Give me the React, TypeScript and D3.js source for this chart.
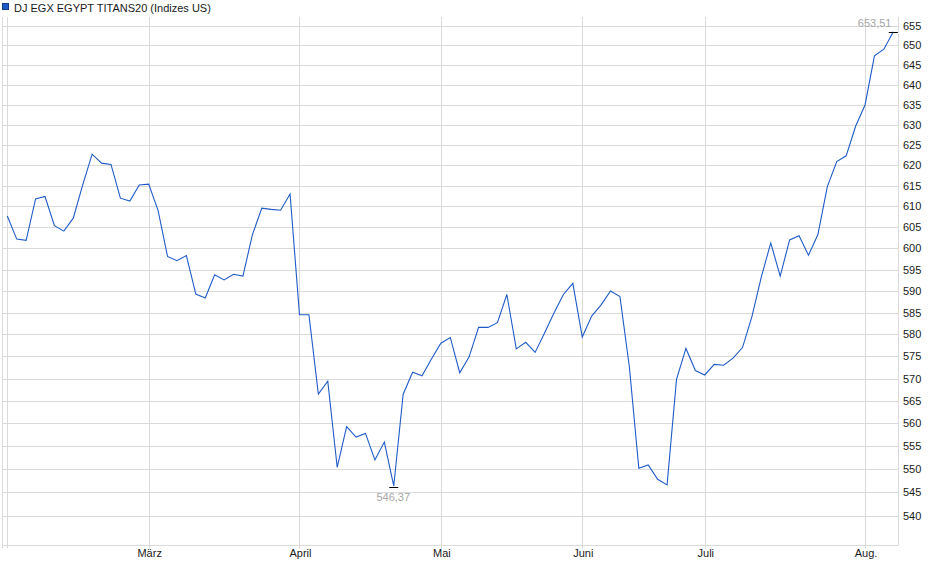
import React from "react";
import * as d3 from "d3";

const seriesName = "DJ EGX EGYPT TITANS20 (Indizes US)";

const values: number[] = [
  607.7, 602.2, 601.9, 611.8, 612.4, 605.4, 604.1, 607.2, 615.2, 622.7,
  620.5, 620.2, 612.0, 611.3, 615.2, 615.4, 609.0, 598.1, 597.1, 598.3,
  589.3, 588.4, 593.8, 592.6, 593.9, 593.5, 603.2, 609.6, 609.3, 609.1,
  613.0, 584.5, 584.5, 566.5, 569.4, 550.4, 559.3, 557.0, 557.8, 552.0,
  555.9, 546.37, 566.5, 571.4, 570.6, 574.4, 578.0, 579.3, 571.3, 574.9,
  581.6, 581.6, 582.7, 589.2, 576.7, 578.2, 575.9, 580.3, 584.9, 589.2,
  591.8, 579.4, 584.2, 586.8, 590.0, 588.7, 572.6, 550.2, 550.9, 547.8,
  546.6, 569.8, 576.8, 571.8, 570.8, 573.2, 573.0, 574.6, 577.0, 584.1,
  593.3, 601.3, 593.5, 602.0, 603.0, 598.4, 603.3, 614.8, 620.9, 622.3,
  629.6, 634.9, 647.3, 649.0, 653.51,
];

// index of the first trading point of each month
const monthTickIndex: number[] = [0, 15, 31, 46, 61, 74, 91];
const monthTickLabel: string[] = ["", "März", "April", "Mai", "Juni", "Juli", "Aug."];

const yTicks: number[] = d3.range(540, 656, 5);

const W = 940;
const H = 579;
const plotLeft = 2.5;
const plotRight = 898.5;
const plotTop = 17;
const plotBottom = 545.5;

const LINE = "#1f5bc6";
const GRID = "#dadada";
const FONT = "'Liberation Sans', Arial, Helvetica, sans-serif";

const fmt = (v: number) => v.toFixed(2).replace(".", ",");

export default function App() {
  const x = d3.scaleLinear().domain([0, values.length - 1]).range([7.3, 893.3]);
  const y = d3.scaleLog().domain([533.8, 657.3]).range([545, 17]);

  const line = d3
    .line<number>()
    .x((_, i) => x(i))
    .y((d) => y(d));

  const minIdx = d3.minIndex(values);
  const maxIdx = d3.maxIndex(values);
  const crisp = (v: number) => Math.round(v) + 0.5;

  return (
    <svg
      width={W}
      height={H}
      style={{ position: "absolute", left: 0, top: 0, background: "#fff" }}
      fontFamily={FONT}
    >
      {/* legend */}
      <rect x={2.5} y={3.5} width={6} height={6} fill={LINE} stroke="#123a85" strokeWidth={1} />
      <text x={14} y={11.5} fontSize={11} fill="#1a1a1a">
        {seriesName}
      </text>

      {/* horizontal grid */}
      {yTicks.map((t) => (
        <line
          key={"h" + t}
          x1={plotLeft}
          x2={plotRight}
          y1={crisp(y(t))}
          y2={crisp(y(t))}
          stroke={GRID}
          strokeWidth={1}
        />
      ))}
      {/* vertical grid (month starts) */}
      {monthTickIndex.map((m, i) => (
        <line
          key={"v" + i}
          x1={crisp(x(m))}
          x2={crisp(x(m))}
          y1={plotTop}
          y2={plotBottom + 3}
          stroke={GRID}
          strokeWidth={1}
        />
      ))}
      {/* frame */}
      <line x1={plotLeft} x2={plotLeft} y1={plotTop} y2={plotBottom + 3} stroke={GRID} />
      <line x1={plotRight} x2={plotRight} y1={plotTop} y2={plotBottom} stroke={GRID} />
      <line x1={plotLeft} x2={plotRight} y1={plotBottom} y2={plotBottom} stroke={GRID} />

      {/* y-axis labels */}
      {yTicks.map((t) => (
        <text key={"yl" + t} x={903} y={y(t) + 4} fontSize={11} fill="#1a1a1a">
          {t}
        </text>
      ))}
      {/* x-axis labels */}
      {monthTickIndex.map((m, i) =>
        monthTickLabel[i] ? (
          <text
            key={"xl" + i}
            x={x(m) + 1}
            y={557}
            fontSize={11}
            fill="#1a1a1a"
            textAnchor="middle"
          >
            {monthTickLabel[i]}
          </text>
        ) : null
      )}

      {/* series */}
      <path d={line(values) || ""} fill="none" stroke={LINE} strokeWidth={1.1} strokeLinejoin="miter" />

      {/* min marker */}
      <line
        x1={x(minIdx) - 4.5}
        x2={x(minIdx) + 4.5}
        y1={crisp(y(values[minIdx]) + 1)}
        y2={crisp(y(values[minIdx]) + 1)}
        stroke="#000"
      />
      <text x={x(minIdx) - 0.5} y={y(values[minIdx]) + 15.5} fontSize={11} fill="#a6a6a6" textAnchor="middle">
        {fmt(values[minIdx])}
      </text>

      {/* max marker */}
      <line
        x1={x(maxIdx) - 4.5}
        x2={x(maxIdx) + 4.5}
        y1={crisp(y(values[maxIdx]))}
        y2={crisp(y(values[maxIdx]))}
        stroke="#000"
      />
      <text x={891.5} y={y(values[maxIdx]) - 4.5} fontSize={11} fill="#a6a6a6" textAnchor="end">
        {fmt(values[maxIdx])}
      </text>
    </svg>
  );
}
